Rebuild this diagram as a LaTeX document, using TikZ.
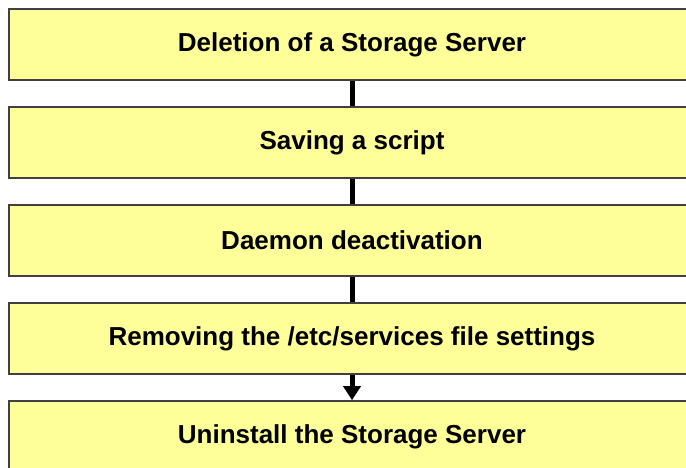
\documentclass[tikz,border=0pt]{standalone}
\usepackage{fontspec}
\setmainfont{Liberation Sans}
\usetikzlibrary{arrows.meta}
\definecolor{stepfill}{HTML}{FFFF99}
\definecolor{stepline}{HTML}{404040}
\begin{document}
\begin{tikzpicture}[
  x=1pt, y=1pt,
  node distance=98pt,
  every node/.style={draw=stepline, line width=1.6pt, fill=stepfill, minimum width=686pt, minimum height=71pt, inner sep=0pt, font=\fontsize{26}{30}\selectfont\bfseries},
  link/.style={line width=5pt},
  arrow/.style={line width=5pt, -{Triangle[width=17pt,length=14pt]}}
]
\useasboundingbox (0,0) rectangle (686,-468);
\node (a) at (352,-44.5) {Deletion of a Storage Server};
\node (b) [below of=a] {Saving a script};
\node (c) [below of=b] {Daemon deactivation};
\node (d) [below of=c] {Removing the /etc/services file settings};
\node (e) [below of=d] {Uninstall the Storage Server};

\draw[link] (a) -- (b);
\draw[link] (b) -- (c);
\draw[link] (c) -- (d);
\draw[arrow] (d) -- (e);
\end{tikzpicture}
\end{document}
